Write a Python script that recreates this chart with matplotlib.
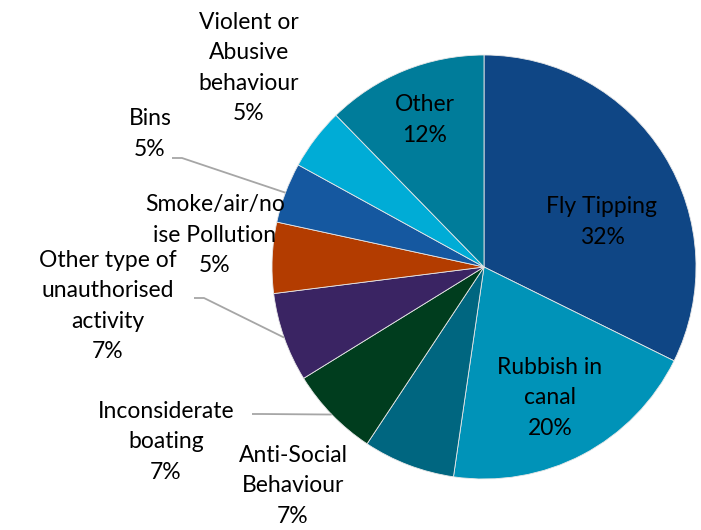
import numpy as np
import matplotlib.pyplot as plt

# data
labels = ["Fly Tipping", "Rubbish in\ncanal", "Anti-Social\nBehaviour",
          "Inconsiderate\nboating", "Other type of\nunauthorised\nactivity",
          "Smoke/air/no\nise Pollution", "Bins", "Violent or\nAbusive\nbehaviour",
          "Other"]
values = [32.3, 20.0, 7.0, 6.9, 6.8, 5.4, 4.6, 4.7, 12.3]
colors = ["#0F4685", "#0093B8", "#006680", "#003D1E", "#3A2463",
          "#B33C00", "#1558A0", "#00ACD6", "#007C9A"]

# label placement in pixel coords (x, y from top), and which get a leader line
label_pos = [(602, 222), (550, 398), (293, 486), (166, 442), (108, 306),
             (215, 235), (150, 134), (249, 68), (425, 120)]
leader = [None, None, None, (252, 414), (194, 298), None, (172, 158), None, None]

W, H = 701, 530
cx, cy, R = 484, 267, 212

plt.rcParams['font.family'] = ['Lato', 'DejaVu Sans']
fig = plt.figure(figsize=(W / 100, H / 100), dpi=100)
ax = fig.add_axes([0, 0, 1, 1])

wedges, _ = ax.pie(values, colors=colors, startangle=90, counterclock=False,
                   center=(cx, H - cy), radius=R,
                   wedgeprops=dict(edgecolor='#e8e8e8', linewidth=0.6))
ax.set_xlim(0, W)
ax.set_ylim(0, H)
ax.set_aspect('equal')
ax.axis('off')

for w, lab, v, (lx, ly), ld in zip(wedges, labels, values, label_pos, leader):
    txt = f"{lab}\n{v:.0f}%"
    ax.text(lx, H - ly, txt, ha='center', va='center', fontsize=16.5,
            linespacing=1.55, color='black')
    if ld is not None:
        mid = np.deg2rad((w.theta1 + w.theta2) / 2)
        ex, ey = cx + R * np.cos(mid), (H - cy) + R * np.sin(mid)
        ax.plot([ld[0], ld[0] + 10, ex], [H - ld[1], H - ld[1], ey],
                color='#A6A6A6', lw=1.3, solid_capstyle='butt')

fig.savefig("out.png", dpi=100)
